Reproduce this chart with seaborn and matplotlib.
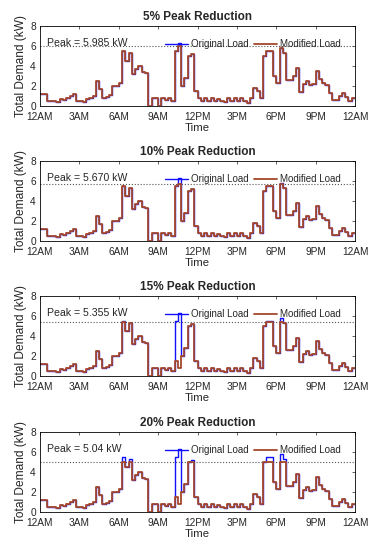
import numpy as np
import pandas as pd
import seaborn as sns
import matplotlib.pyplot as plt

# 15-minute load profile (kW), 96 slots from 12AM
original_load = [
    1.2, 1.2, 0.5, 0.5, 0.5, 0.4, 0.7, 0.6,   # 0:00 - 1:45
    0.8, 1.0, 1.2, 0.5, 0.5, 0.4, 0.7, 0.8,   # 2:00 - 3:45
    1.0, 2.5, 1.7, 0.8, 0.9, 1.1, 2.0, 2.0,   # 4:00 - 5:45
    2.3, 5.5, 4.5, 5.3, 3.2, 3.7, 4.0, 3.4,   # 6:00 - 7:45
    3.3, 0.0, 0.8, 0.8, 0.0, 0.8, 0.6, 0.8,   # 8:00 - 9:45
    0.5, 5.5, 6.3, 2.0, 2.8, 5.0, 5.2, 1.5,   # 10:00 - 11:45
    0.8, 0.5, 0.8, 0.5, 0.8, 0.5, 0.7, 0.5,   # 12:00 - 13:45
    0.4, 0.8, 0.5, 0.8, 0.5, 0.8, 0.5, 0.3,   # 14:00 - 15:45
    0.8, 1.8, 1.5, 0.8, 5.0, 5.5, 5.5, 3.0,   # 16:00 - 17:45
    2.3, 5.8, 5.3, 2.6, 2.6, 3.0, 3.8, 1.4,   # 18:00 - 19:45
    2.2, 2.5, 2.1, 2.2, 3.5, 2.7, 2.3, 2.1,   # 20:00 - 21:45
    1.3, 0.6, 0.6, 1.0, 1.3, 0.9, 0.5, 0.8,   # 22:00 - 23:45
]

titles = ["5% Peak Reduction", "10% Peak Reduction",
          "15% Peak Reduction", "20% Peak Reduction"]
peak_values = [5.985, 5.670, 5.355, 5.04]
peak_labels = ["5.985", "5.670", "5.355", "5.04"]

# slots where the modified load differs from the original (slot index: kW)
changes_5 = {42: 5.985}
changes_10 = {42: 5.67, 73: 5.67}
changes_15 = {25: 5.355, 41: 1.5, 42: 0.8, 69: 5.355, 70: 5.355, 73: 5.355}
changes_20 = {25: 5.04, 27: 5.04, 41: 1.5, 42: 0.8, 46: 5.04,
              69: 5.04, 70: 5.04, 73: 5.04, 74: 5.04}
all_changes = [changes_5, changes_10, changes_15, changes_20]

tick_hours = [0, 3, 6, 9, 12, 15, 18, 21, 24]
tick_labels = ["12AM", "3AM", "6AM", "9AM", "12PM", "3PM", "6PM", "9PM", "12AM"]

sns.set_style("white")
plt.rcParams['font.family'] = ['Liberation Sans', 'DejaVu Sans']

# time axis in hours, with one extra point so the last step is drawn
hours = np.arange(len(original_load) + 1) * 0.25


def step_series(values):
    return list(values) + [values[-1]]


fig = plt.figure(figsize=(3.76, 5.5), dpi=100)
bottoms = [0.8073, 0.5618, 0.3164, 0.0691]

for i in range(4):
    ax = fig.add_axes([0.1064, bottoms[i], 0.8378, 0.1455])
    modified = list(original_load)
    for k, v in all_changes[i].items():
        modified[k] = v

    sns.lineplot(x=hours, y=step_series(original_load), ax=ax, color='#1010ff',
                 lw=1.0, drawstyle='steps-post', label='Original Load')
    sns.lineplot(x=hours, y=step_series(modified), ax=ax, color='#a4482c',
                 lw=1.3, drawstyle='steps-post', label='Modified Load')
    ax.axhline(peak_values[i], color='#555555', ls=':', lw=0.8, zorder=1)

    ax.text(0.55, 6.25, "Peak = " + peak_labels[i] + " kW", fontsize=7.6,
            va='center', ha='left')
    ax.legend(loc='center left', bbox_to_anchor=(0.397, 0.772), ncol=2,
              frameon=False, fontsize=7, handlelength=2.4, handletextpad=0.3,
              columnspacing=0.5, borderpad=0, borderaxespad=0)

    ax.set_xlim(0, 24)
    ax.set_ylim(0, 8)
    ax.set_xticks(tick_hours)
    ax.set_xticklabels(tick_labels)
    ax.set_yticks([0, 2, 4, 6, 8])
    ax.tick_params(direction='in', length=2.5, width=0.5, labelsize=7.3,
                   top=True, right=True)
    ax.tick_params(axis='x', pad=4.5)
    ax.tick_params(axis='y', pad=3)
    for s in ax.spines.values():
        s.set_linewidth(0.6)
        s.set_color('black')
    ax.set_title(titles[i], fontsize=8.5, fontweight='bold', pad=4)
    ax.set_xlabel("Time", fontsize=8.2, labelpad=0.5)
    ax.set_ylabel("Total Demand (kW)", fontsize=8.6, labelpad=2)

fig.savefig("out.png", dpi=100)
